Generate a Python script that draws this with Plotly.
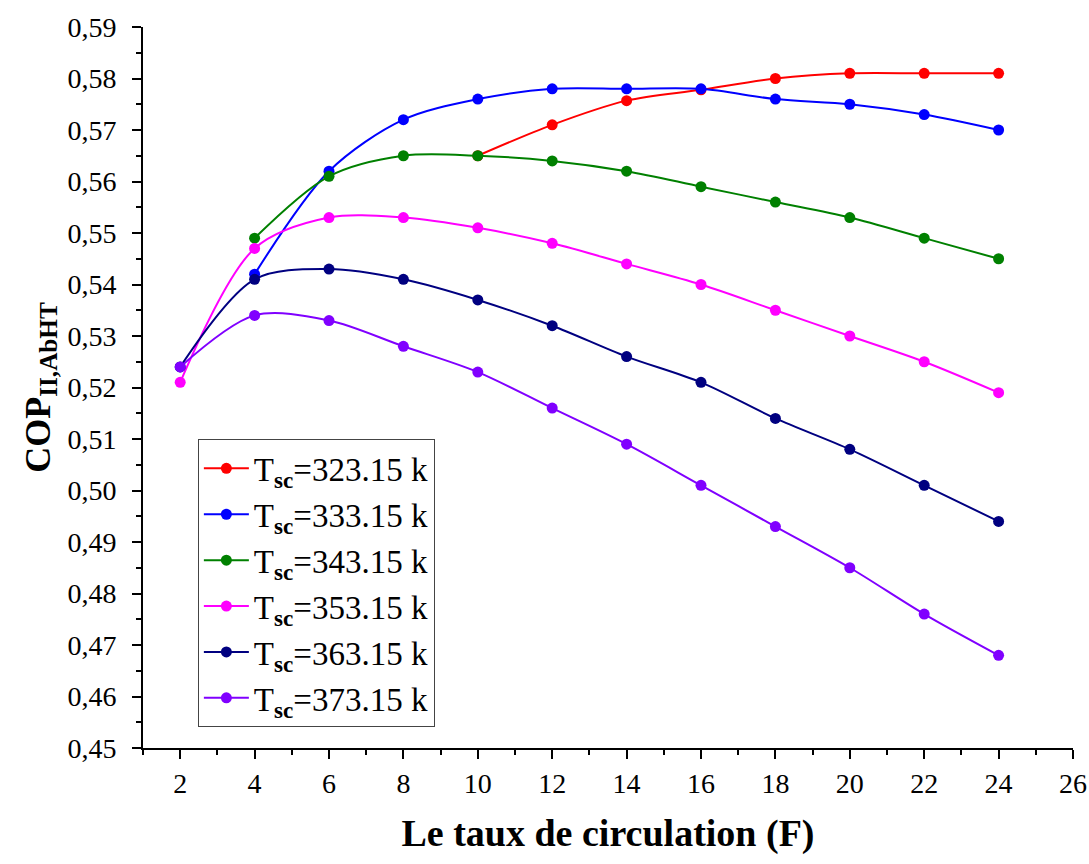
import plotly.graph_objects as go

F = [2, 4, 6, 8, 10, 12, 14, 16, 18, 20, 22, 24]

# series values (None = no visible point)
cop_323 = [None, None, None, None, 0.565, 0.571, 0.5757, 0.5778, 0.580, 0.581, 0.581, 0.581]
cop_333 = [None, 0.542, 0.562, 0.572, 0.576, 0.578, 0.578, 0.578, 0.576, 0.575, 0.573, 0.570]
cop_343 = [None, 0.549, 0.561, 0.565, 0.565, 0.564, 0.562, 0.559, 0.556, 0.553, 0.549, 0.545]
cop_353 = [0.521, 0.547, 0.553, 0.553, 0.551, 0.548, 0.544, 0.540, 0.535, 0.530, 0.525, 0.519]
cop_363 = [0.524, 0.541, 0.543, 0.541, 0.537, 0.532, 0.526, 0.521, 0.514, 0.508, 0.501, 0.494]
cop_373 = [0.524, 0.534, 0.533, 0.528, 0.523, 0.516, 0.509, 0.501, 0.493, 0.485, 0.476, 0.468]

names = ["T<sub><b>sc</b></sub>=323.15 k", "T<sub><b>sc</b></sub>=333.15 k",
         "T<sub><b>sc</b></sub>=343.15 k", "T<sub><b>sc</b></sub>=353.15 k",
         "T<sub><b>sc</b></sub>=363.15 k", "T<sub><b>sc</b></sub>=373.15 k"]
series = [cop_323, cop_333, cop_343, cop_353, cop_363, cop_373]
colors = ["#ff0000", "#0000ff", "#008000", "#ff00ff", "#000080", "#8000ff"]

fig = go.Figure()
for n, s, c in zip(names, series, colors):
    xs = [x for x, v in zip(F, s) if v is not None]
    ys = [v for v in s if v is not None]
    fig.add_trace(go.Scatter(x=xs, y=ys, name=n, mode="lines+markers",
                             line=dict(color=c, width=2, shape="spline", smoothing=0.9),
                             marker=dict(color=c, size=11)))

font = "Liberation Serif, Times New Roman, serif"
fig.update_layout(
    width=1089, height=864,
    margin=dict(l=143, r=16, t=24, b=116),
    paper_bgcolor="white", plot_bgcolor="white",
    separators=", ",
    font=dict(family=font, color="black", size=28),
    showlegend=True,
    legend=dict(x=0.059, y=0.428, xanchor="left", yanchor="top",
                bordercolor="#444", borderwidth=1, bgcolor="white",
                font=dict(size=33, family=font), itemwidth=45,
                tracegroupgap=0),
    xaxis=dict(range=[1, 26], tick0=2, dtick=2, showgrid=False, zeroline=False,
               automargin=False,
               showline=True, linecolor="black", linewidth=2,
               ticks="outside", ticklen=9, tickwidth=2, tickcolor="black",
               minor=dict(ticks="outside", ticklen=5, tickwidth=2, tickcolor="black", dtick=1, tick0=1),
               tickfont=dict(size=28, family=font),
               title=dict(text="<b>Le taux de circulation (F)</b>", font=dict(size=38, family=font), standoff=22)),
    yaxis=dict(range=[0.45, 0.59], dtick=0.01, tickformat=".2f", showgrid=False, zeroline=False,
               showline=True, linecolor="black", linewidth=2,
               ticks="outside", ticklen=9, tickwidth=2, tickcolor="black", ticklabelstandoff=10,
               minor=dict(ticks="outside", ticklen=5, tickwidth=2, tickcolor="black", dtick=0.005),
               tickfont=dict(size=28, family=font),
               title=dict(text="<b>COP<sub>II,AbHT</sub></b>", font=dict(size=36, family=font), standoff=6)),
)

fig.write_html("out.html")
